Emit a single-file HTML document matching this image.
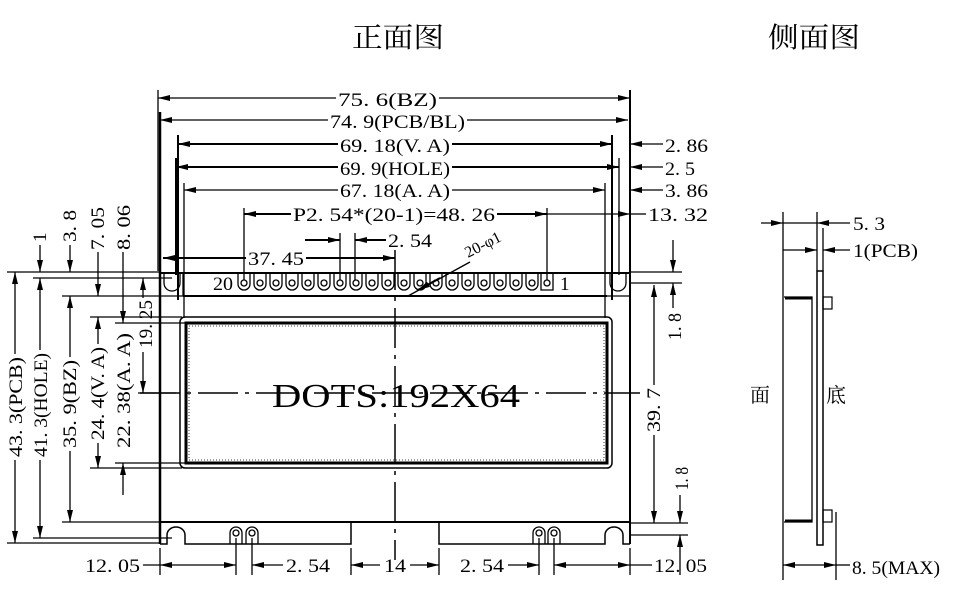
<!DOCTYPE html>
<html><head><meta charset="utf-8"><style>
html,body{margin:0;padding:0;background:#fff;}
svg{display:block;}
text{font-family:"Liberation Serif","Noto Serif CJK SC",serif;fill:#000;}
</style></head><body>
<svg width="954" height="590" viewBox="0 0 954 590" xmlns="http://www.w3.org/2000/svg">
<defs>
<marker id="a" markerUnits="userSpaceOnUse" markerWidth="12" markerHeight="6" refX="12" refY="3" orient="auto-start-reverse"><path d="M0,0 L12,3 L0,6 z" fill="#000"/></marker>
</defs>
<g font-size="19">
<text x="352" y="47" font-size="28" textLength="92" lengthAdjust="spacingAndGlyphs">正面图</text>
<text x="768" y="47" font-size="28" textLength="92" lengthAdjust="spacingAndGlyphs">侧面图</text>

<g stroke="#000" fill="none" stroke-width="1.3">
<line x1="158" y1="90" x2="158" y2="271"/>
<line x1="630" y1="90" x2="630" y2="544" stroke-width="2"/>
<line x1="160" y1="112" x2="160" y2="544" stroke-width="2.5"/>
<line x1="178" y1="135" x2="178" y2="300" stroke-width="2"/>
<line x1="176" y1="158" x2="176" y2="275" stroke-width="2"/>
<line x1="184" y1="183" x2="184" y2="318"/>
<line x1="612" y1="135" x2="612" y2="300" stroke-width="2"/>
<line x1="619" y1="158" x2="619" y2="275"/>
<line x1="605" y1="183" x2="605" y2="318"/>
<line x1="244" y1="208" x2="244" y2="280"/>
<line x1="547" y1="208" x2="547" y2="280"/>
<line x1="340" y1="233" x2="340" y2="280"/>
<line x1="355" y1="233" x2="355" y2="280"/>
<line x1="336" y1="98" x2="158" y2="98" marker-end="url(#a)"/>
<line x1="439" y1="98" x2="630" y2="98" marker-end="url(#a)"/>
<line x1="328" y1="120" x2="160" y2="120" marker-end="url(#a)"/>
<line x1="467" y1="120" x2="628" y2="120" marker-end="url(#a)"/>
<line x1="338" y1="144" x2="178" y2="144" marker-end="url(#a)" stroke-width="2"/>
<line x1="452" y1="144" x2="612" y2="144" marker-end="url(#a)" stroke-width="2"/>
<line x1="338" y1="167" x2="176" y2="167" marker-end="url(#a)" stroke-width="2"/>
<line x1="452" y1="167" x2="619" y2="167" marker-end="url(#a)" stroke-width="2"/>
<line x1="338" y1="190" x2="184" y2="190" marker-end="url(#a)"/>
<line x1="452" y1="190" x2="605" y2="190" marker-end="url(#a)"/>
<line x1="291" y1="214" x2="244" y2="214" marker-end="url(#a)" stroke-width="2"/>
<line x1="497" y1="214" x2="547" y2="214" marker-end="url(#a)" stroke-width="2"/>
<line x1="646" y1="214" x2="630" y2="214"/>
<line x1="547" y1="214" x2="630" y2="214" marker-end="url(#a)"/>
<line x1="663" y1="144" x2="630" y2="144" marker-end="url(#a)"/>
<line x1="663" y1="167" x2="630" y2="167" marker-end="url(#a)"/>
<line x1="663" y1="190" x2="630" y2="190" marker-end="url(#a)"/>
<line x1="305" y1="240" x2="340" y2="240" marker-end="url(#a)" stroke-width="2"/>
<line x1="386" y1="240" x2="355" y2="240" marker-end="url(#a)" stroke-width="2"/>
<line x1="246" y1="258" x2="163" y2="258" marker-end="url(#a)" stroke-width="2"/>
<line x1="306" y1="258" x2="395" y2="258" marker-end="url(#a)" stroke-width="2"/>

<line x1="160" y1="273" x2="630" y2="273" stroke-width="2"/>
<line x1="183" y1="296" x2="607" y2="296" stroke-width="2"/>
<line x1="160" y1="296" x2="183" y2="296"/>
<line x1="607" y1="296" x2="630" y2="296"/>
<path d="M164,273 V283 A8,8 0 0 0 180,283 V273" />
<path d="M183,273 V296" />
<path d="M610,273 V283 A8,8 0 0 0 626,283 V273" />
<line x1="160" y1="522" x2="630" y2="522" stroke-width="2"/>
<path d="M160,544 H167 V535 A9,8 0 0 1 185,535 V544 H351 V522" stroke-width="1.5"/>
<path d="M439,522 V544 H605 V535 A9,8 0 0 1 623,535 V544 H630" stroke-width="1.5"/>
<path d="M230,544 V533 A6,6 0 0 1 242,533 V544"/><circle cx="236" cy="533" r="3"/>
<path d="M246,544 V533 A6,6 0 0 1 258,533 V544"/><circle cx="252" cy="533" r="3"/>
<path d="M533,544 V533 A6,6 0 0 1 545,533 V544"/><circle cx="539" cy="533" r="3"/>
<path d="M548,544 V533 A6,6 0 0 1 560,533 V544"/><circle cx="554" cy="533" r="3"/>
<rect x="180" y="317" width="432" height="151" rx="5" stroke-width="1.5"/>
<rect x="186" y="323" width="421" height="140" stroke-width="3"/>
<rect x="189" y="326" width="415" height="134" stroke-width="0.8" stroke-dasharray="1 2"/>
<line x1="140" y1="393" x2="640" y2="393" stroke-width="1.5" stroke-dasharray="40 7 4 7"/>
<line x1="395" y1="250" x2="395" y2="560" stroke-width="1.5" stroke-dasharray="40 7 4 7"/>
<line x1="470" y1="262" x2="408" y2="296"/>
<line x1="440" y1="278" x2="418" y2="290" marker-end="url(#a)" stroke-width="2"/>

<line x1="7" y1="272" x2="160" y2="272"/>
<line x1="33" y1="278" x2="172" y2="278"/>
<line x1="62" y1="296" x2="160" y2="296"/>
<line x1="90" y1="317" x2="182" y2="317"/>
<line x1="115" y1="323" x2="186" y2="323"/>
<line x1="138" y1="393" x2="176" y2="393"/>
<line x1="90" y1="468" x2="182" y2="468"/>
<line x1="115" y1="463" x2="186" y2="463"/>
<line x1="62" y1="522" x2="160" y2="522"/>
<line x1="33" y1="538" x2="172" y2="538"/>
<line x1="7" y1="543" x2="160" y2="543"/>

<line x1="15" y1="354" x2="15" y2="272" marker-end="url(#a)"/>
<line x1="15" y1="460" x2="15" y2="543" marker-end="url(#a)"/>
<line x1="40" y1="350" x2="40" y2="278" marker-end="url(#a)"/>
<line x1="40" y1="460" x2="40" y2="538" marker-end="url(#a)"/>
<line x1="40" y1="245" x2="40" y2="272" marker-end="url(#a)"/>
<line x1="70" y1="357" x2="70" y2="296" marker-end="url(#a)"/>
<line x1="70" y1="451" x2="70" y2="522" marker-end="url(#a)"/>
<line x1="70" y1="245" x2="70" y2="272" marker-end="url(#a)"/>
<line x1="98" y1="344" x2="98" y2="317" marker-end="url(#a)"/>
<line x1="98" y1="443" x2="98" y2="468" marker-end="url(#a)"/>
<line x1="98" y1="252" x2="98" y2="296" marker-end="url(#a)"/>
<line x1="123" y1="252" x2="123" y2="323" marker-end="url(#a)"/>
<line x1="123" y1="495" x2="123" y2="463" marker-end="url(#a)"/>
<line x1="143" y1="298" x2="143" y2="278" marker-end="url(#a)"/>
<line x1="143" y1="352" x2="143" y2="393" marker-end="url(#a)"/>

<line x1="630" y1="272" x2="682" y2="272"/>
<line x1="630" y1="283" x2="682" y2="283"/>
<line x1="630" y1="523" x2="688" y2="523"/>
<line x1="630" y1="535" x2="688" y2="535"/>
<line x1="673" y1="240" x2="673" y2="272" marker-end="url(#a)"/>
<line x1="673" y1="308" x2="673" y2="283" marker-end="url(#a)"/>
<line x1="654" y1="385" x2="654" y2="285" marker-end="url(#a)"/>
<line x1="654" y1="435" x2="654" y2="523" marker-end="url(#a)"/>
<line x1="680" y1="495" x2="680" y2="523" marker-end="url(#a)"/>
<line x1="680" y1="575" x2="680" y2="535" marker-end="url(#a)"/>

<line x1="160" y1="548" x2="160" y2="575"/>
<line x1="236" y1="538" x2="236" y2="575"/>
<line x1="252" y1="538" x2="252" y2="575"/>
<line x1="351" y1="548" x2="351" y2="575"/>
<line x1="439" y1="548" x2="439" y2="575"/>
<line x1="539" y1="538" x2="539" y2="575"/>
<line x1="554" y1="538" x2="554" y2="575"/>
<line x1="630" y1="548" x2="630" y2="575"/>
<line x1="143" y1="565" x2="160" y2="565"/>
<line x1="198" y1="565" x2="160" y2="565" marker-end="url(#a)"/>
<line x1="198" y1="565" x2="236" y2="565" marker-end="url(#a)"/>
<line x1="283" y1="565" x2="252" y2="565" marker-end="url(#a)"/>
<line x1="380" y1="565" x2="351" y2="565" marker-end="url(#a)"/>
<line x1="410" y1="565" x2="439" y2="565" marker-end="url(#a)"/>
<line x1="508" y1="565" x2="539" y2="565" marker-end="url(#a)"/>
<line x1="592" y1="565" x2="554" y2="565" marker-end="url(#a)"/>
<line x1="592" y1="565" x2="630" y2="565" marker-end="url(#a)"/>
<line x1="630" y1="565" x2="652" y2="565"/>

<line x1="783" y1="212" x2="783" y2="580"/>
<line x1="817" y1="212" x2="817" y2="271"/>
<line x1="823" y1="228" x2="823" y2="271"/>
<line x1="836" y1="512" x2="836" y2="580"/>
<line x1="761" y1="223" x2="783" y2="223" marker-end="url(#a)"/>
<line x1="850" y1="223" x2="817" y2="223" marker-end="url(#a)"/>
<line x1="783" y1="223" x2="817" y2="223"/>
<line x1="783" y1="250" x2="817" y2="250" marker-end="url(#a)"/>
<line x1="850" y1="250" x2="823" y2="250" marker-end="url(#a)"/>
<line x1="783" y1="565" x2="836" y2="565" marker-start="url(#a)" marker-end="url(#a)"/>
<line x1="836" y1="565" x2="850" y2="565"/>
<rect x="817" y="271" width="6" height="274" stroke-width="1.5"/>
<path d="M784,297 H812 V522 H784" stroke-width="1.3"/>
<line x1="785" y1="298" x2="812" y2="298" stroke-width="3"/>
<line x1="785" y1="521" x2="812" y2="521" stroke-width="3"/>
<rect x="823" y="297" width="9" height="12" stroke-width="1.2"/>
<rect x="823" y="510" width="9" height="12" stroke-width="1.2"/>
</g>

<g stroke="#000" fill="none" stroke-width="1.3">
<path d="M238,273 V284 A6,6 0 0 0 250,284 V273 M254,273 V284 A6,6 0 0 0 266,284 V273 M270,273 V284 A6,6 0 0 0 282,284 V273 M286,273 V284 A6,6 0 0 0 298,284 V273 M302,273 V284 A6,6 0 0 0 314,284 V273 M318,273 V284 A6,6 0 0 0 330,284 V273 M334,273 V284 A6,6 0 0 0 346,284 V273 M350,273 V284 A6,6 0 0 0 362,284 V273 M366,273 V284 A6,6 0 0 0 378,284 V273 M382,273 V284 A6,6 0 0 0 394,284 V273 M398,273 V284 A6,6 0 0 0 410,284 V273 M414,273 V284 A6,6 0 0 0 426,284 V273 M430,273 V284 A6,6 0 0 0 442,284 V273 M446,273 V284 A6,6 0 0 0 458,284 V273 M462,273 V284 A6,6 0 0 0 474,284 V273 M478,273 V284 A6,6 0 0 0 490,284 V273 M494,273 V284 A6,6 0 0 0 506,284 V273 M510,273 V284 A6,6 0 0 0 522,284 V273 M526,273 V284 A6,6 0 0 0 538,284 V273 M541,273 V290 H553 V273"/>
<circle cx="244" cy="283" r="3"/><circle cx="260" cy="283" r="3"/><circle cx="276" cy="283" r="3"/><circle cx="292" cy="283" r="3"/><circle cx="308" cy="283" r="3"/><circle cx="324" cy="283" r="3"/><circle cx="340" cy="283" r="3"/><circle cx="356" cy="283" r="3"/><circle cx="372" cy="283" r="3"/><circle cx="388" cy="283" r="3"/><circle cx="404" cy="283" r="3"/><circle cx="420" cy="283" r="3"/><circle cx="436" cy="283" r="3"/><circle cx="452" cy="283" r="3"/><circle cx="468" cy="283" r="3"/><circle cx="484" cy="283" r="3"/><circle cx="500" cy="283" r="3"/><circle cx="516" cy="283" r="3"/><circle cx="532" cy="283" r="3"/><circle cx="547" cy="283" r="3"/>
</g>

<text x="338" y="106" textLength="99" lengthAdjust="spacingAndGlyphs">75. 6(BZ)</text>
<text x="330" y="128" textLength="135" lengthAdjust="spacingAndGlyphs">74. 9(PCB/BL)</text>
<text x="340" y="152" textLength="110" lengthAdjust="spacingAndGlyphs">69. 18(V. A)</text>
<text x="340" y="175" textLength="110" lengthAdjust="spacingAndGlyphs">69. 9(HOLE)</text>
<text x="340" y="197" textLength="110" lengthAdjust="spacingAndGlyphs">67. 18(A. A)</text>
<text x="293" y="221" textLength="202" lengthAdjust="spacingAndGlyphs">P2. 54*(20-1)=48. 26</text>
<text x="388" y="247" textLength="44" lengthAdjust="spacingAndGlyphs">2. 54</text>
<text x="248" y="265" textLength="56" lengthAdjust="spacingAndGlyphs">37. 45</text>
<text x="665" y="152" textLength="43" lengthAdjust="spacingAndGlyphs">2. 86</text>
<text x="665" y="175" textLength="30" lengthAdjust="spacingAndGlyphs">2. 5</text>
<text x="665" y="197" textLength="43" lengthAdjust="spacingAndGlyphs">3. 86</text>
<text x="648" y="221" textLength="60" lengthAdjust="spacingAndGlyphs">13. 32</text>
<text x="213" y="290" textLength="20" lengthAdjust="spacingAndGlyphs">20</text>
<text x="560" y="290">1</text>
<text x="468" y="258" font-size="16" transform="rotate(-27 468 258)">20-φ1</text>
<text x="272" y="407" font-size="34" textLength="248" lengthAdjust="spacingAndGlyphs">DOTS:192X64</text>

<text transform="translate(22 457) rotate(-90)" textLength="100" lengthAdjust="spacingAndGlyphs">43. 3(PCB)</text>
<text transform="translate(47 457) rotate(-90)" textLength="104" lengthAdjust="spacingAndGlyphs">41. 3(HOLE)</text>
<text transform="translate(76 448) rotate(-90)" textLength="88" lengthAdjust="spacingAndGlyphs">35. 9(BZ)</text>
<text transform="translate(104 440) rotate(-90)" textLength="93" lengthAdjust="spacingAndGlyphs">24. 4(V. A)</text>
<text transform="translate(130 448) rotate(-90)" textLength="115" lengthAdjust="spacingAndGlyphs">22. 38(A. A)</text>
<text transform="translate(152 348) rotate(-90)" textLength="48" lengthAdjust="spacingAndGlyphs">19. 25</text>
<text transform="translate(46 242) rotate(-90)">1</text>
<text transform="translate(76 242) rotate(-90)" textLength="32" lengthAdjust="spacingAndGlyphs">3. 8</text>
<text transform="translate(104 250) rotate(-90)" textLength="43" lengthAdjust="spacingAndGlyphs">7. 05</text>
<text transform="translate(130 250) rotate(-90)" textLength="45" lengthAdjust="spacingAndGlyphs">8. 06</text>
<text transform="translate(681 340) rotate(-90)" textLength="27" lengthAdjust="spacingAndGlyphs">1. 8</text>
<text transform="translate(660 432) rotate(-90)" textLength="44" lengthAdjust="spacingAndGlyphs">39. 7</text>
<text transform="translate(688 490) rotate(-90)" textLength="23" lengthAdjust="spacingAndGlyphs">1. 8</text>

<text x="85" y="572" textLength="55" lengthAdjust="spacingAndGlyphs">12. 05</text>
<text x="286" y="572" textLength="44" lengthAdjust="spacingAndGlyphs">2. 54</text>
<text x="384" y="572" textLength="22" lengthAdjust="spacingAndGlyphs">14</text>
<text x="460" y="572" textLength="44" lengthAdjust="spacingAndGlyphs">2. 54</text>
<text x="654" y="572" textLength="53" lengthAdjust="spacingAndGlyphs">12. 05</text>

<text x="853" y="230" textLength="32" lengthAdjust="spacingAndGlyphs">5. 3</text>
<text x="853" y="257" textLength="65" lengthAdjust="spacingAndGlyphs">1(PCB)</text>
<text x="852" y="574" textLength="88" lengthAdjust="spacingAndGlyphs">8. 5(MAX)</text>
<text x="750" y="402" font-size="20">面</text>
<text x="826" y="402" font-size="20">底</text>
</g>
</svg>
</body></html>
